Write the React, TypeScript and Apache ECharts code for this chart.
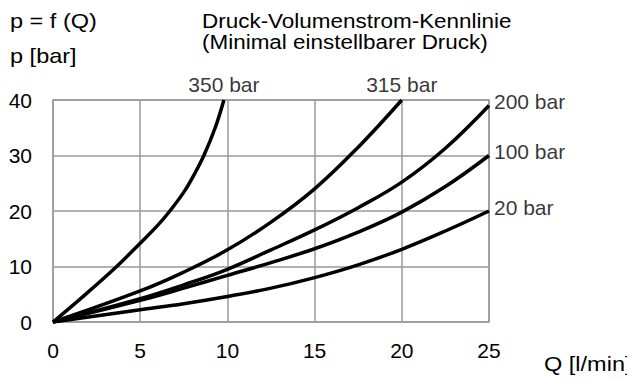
import React, { useEffect, useRef } from "react";
import * as echarts from "echarts";

const xTicks = [0, 5, 10, 15, 20, 25];
const yTicks = [0, 10, 20, 30, 40];

const curveNames = ["350 bar", "315 bar", "200 bar", "100 bar", "20 bar"];

const q350 = [0, 1.8, 3.65, 5, 6, 6.7, 7.5, 8.1, 8.65, 9.3, 9.8];
const p350 = [0, 4.8, 10, 14.2, 17.4, 20, 23.4, 26.6, 30, 35, 40];

const q315 = [0, 5, 7.5, 10, 12.5, 15, 17.5, 20];
const p315 = [0, 5.6, 9, 13, 18, 24, 31.5, 40];

const q200 = [0, 5, 7.5, 10, 12.5, 15, 17.5, 20, 22.5, 25];
const p200 = [0, 4.2, 6.7, 9.5, 13, 16.6, 20.6, 25.2, 31.3, 39];

const q100 = [0, 5, 7.5, 10, 12.5, 15, 17.5, 20, 22.5, 25];
const p100 = [0, 3.9, 6.1, 8.4, 10.7, 13.2, 16.2, 19.8, 24.4, 30];

const q20 = [0, 5, 7.5, 10, 12.5, 15, 17.5, 20, 22.5, 25];
const p20 = [0, 2.2, 3.3, 4.6, 6.1, 8, 10.3, 13.1, 16.4, 20];

const curves = [
  [q350, p350],
  [q315, p315],
  [q200, p200],
  [q100, p100],
  [q20, p20],
];
const labelPositions = ["top", "top", "right", "right", "right"];

const FONT = "'Liberation Sans', Arial, sans-serif";
const FS = 21;

export default function App() {
  const ref = useRef<HTMLDivElement>(null);

  useEffect(() => {
    if (!ref.current) return;
    const chart = echarts.init(ref.current, null, { renderer: "svg" });

    const lineSeries = curves.map(([qs, ps], i) => ({
      type: "line",
      name: curveNames[i],
      data: qs.map((q, j) => [q, ps[j]]),
      smooth: 0.4,
      showSymbol: false,
      lineStyle: { color: "#000", width: 3.5 },
      silent: true,
      z: 3,
    }));

    const labelData = curves.map(([qs, ps], i) => {
      const last = qs.length - 1;
      const pos = labelPositions[i];
      return {
        value: [qs[last], ps[last]],
        label: {
          show: true,
          position: pos,
          distance: 5,
          offset: pos === "top" ? [0, 0] : [0, -4],
          formatter: curveNames[i],
          color: "#000",
          fontSize: FS,
          fontFamily: FONT,
        },
      };
    });

    chart.setOption({
      animation: false,
      textStyle: { fontFamily: FONT },
      grid: {
        left: 53,
        right: 146,
        top: 100,
        bottom: 58,
        show: true,
        borderColor: "#9a9a9a",
        borderWidth: 1.5,
      },
      xAxis: {
        type: "value",
        min: xTicks[0],
        max: xTicks[xTicks.length - 1],
        interval: 5,
        axisLine: { show: false },
        axisTick: { show: false },
        splitLine: { show: true, lineStyle: { color: "#9a9a9a", width: 1.5 } },
        axisLabel: { color: "#000", fontSize: FS, margin: 18, fontFamily: FONT },
      },
      yAxis: {
        type: "value",
        min: yTicks[0],
        max: yTicks[yTicks.length - 1],
        interval: 10,
        axisLine: { show: false },
        axisTick: { show: false },
        splitLine: { show: true, lineStyle: { color: "#9a9a9a", width: 1.5 } },
        axisLabel: { color: "#000", fontSize: FS, margin: 21, fontFamily: FONT },
      },
      graphic: [
        {
          type: "text",
          x: 10,
          y: 10,
          scaleX: 1.12,
          style: { text: "p = f (Q)", fontSize: FS, fontFamily: FONT, fill: "#000" },
        },
        {
          type: "text",
          x: 10,
          y: 45,
          scaleX: 1.12,
          style: { text: "p [bar]", fontSize: FS, fontFamily: FONT, fill: "#000" },
        },
        {
          type: "text",
          x: 202,
          y: 10,
          scaleX: 1.07,
          style: {
            text: "Druck-Volumenstrom-Kennlinie\n(Minimal einstellbarer Druck)",
            fontSize: FS,
            lineHeight: 21,
            fontFamily: FONT,
            fill: "#000",
          },
        },
        {
          type: "text",
          x: 544,
          y: 353,
          scaleX: 1.12,
          style: { text: "Q [l/min]", fontSize: FS, fontFamily: FONT, fill: "#000" },
        },
      ],
      series: [
        ...lineSeries,
        {
          type: "scatter",
          data: labelData,
          symbolSize: 0,
          silent: true,
          z: 4,
        },
      ],
    });

    return () => chart.dispose();
  }, []);

  return <div ref={ref} style={{ width: 635, height: 380, marginLeft: -8, marginTop: -8 }} />;
}
